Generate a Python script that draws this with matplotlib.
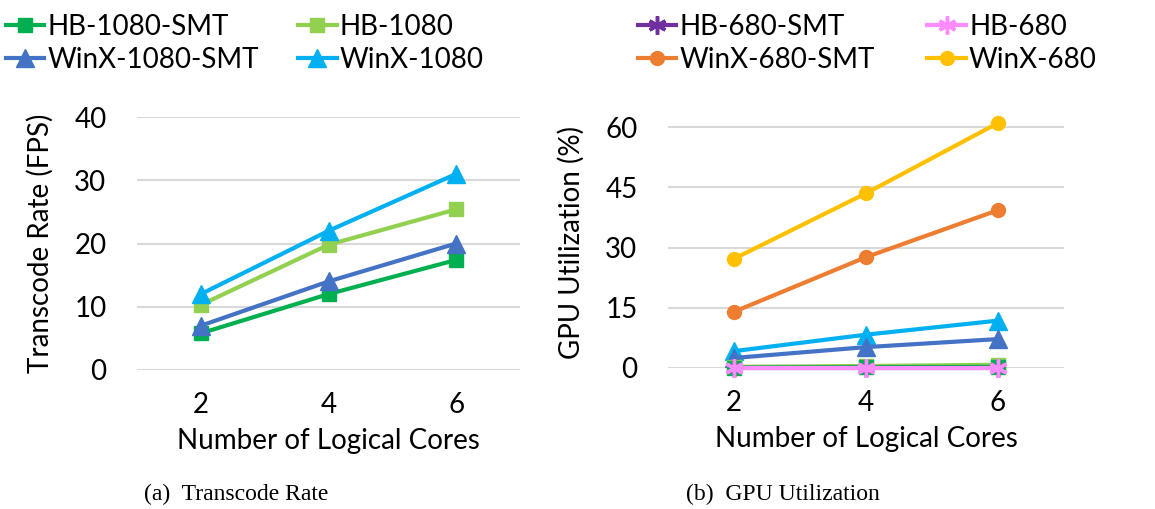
import numpy as np
import matplotlib
matplotlib.use("Agg")
import matplotlib.pyplot as plt
from matplotlib.lines import Line2D

plt.rcParams['font.family'] = ['Lato', 'DejaVu Sans']

cores = [2, 4, 6]

# transcode rate (FPS)
fps_hb1080_smt = [5.8, 12.0, 17.4]
fps_hb1080 = [10.3, 19.8, 25.4]
fps_winx1080_smt = [7.0, 14.0, 20.0]
fps_winx1080 = [12.0, 22.0, 31.0]

# GPU utilization (%)
gpu_hb1080_smt = [0.1, 0.2, 0.3]
gpu_hb1080 = [0.3, 0.5, 0.8]
gpu_hb680_smt = [0.0, 0.0, 0.0]
gpu_hb680 = [0.0, 0.0, 0.0]
gpu_winx1080_smt = [2.5, 5.2, 7.2]
gpu_winx1080 = [4.2, 8.3, 11.8]
gpu_winx680_smt = [14.0, 27.6, 39.3]
gpu_winx680 = [27.2, 43.5, 61.0]

sty = {
    'HB-1080-SMT':   dict(color='#00B050', marker='s', ms=10),
    'HB-1080':       dict(color='#92D050', marker='s', ms=10),
    'HB-680-SMT':    dict(color='#7030A0', marker=(6, 2, 0), ms=13, mew=2.5),
    'HB-680':        dict(color='#FF8CFF', marker=(6, 2, 0), ms=13, mew=2.5),
    'WinX-1080-SMT': dict(color='#4472C4', marker='^', ms=13),
    'WinX-1080':     dict(color='#00B0F0', marker='^', ms=13),
    'WinX-680-SMT':  dict(color='#ED7D31', marker='o', ms=10),
    'WinX-680':      dict(color='#FFC000', marker='o', ms=10),
}

fig = plt.figure(figsize=(11.55, 5.09), dpi=100)
W, H = 1155, 509
ax1 = fig.add_axes([137 / W, 1 - 370 / H, (520 - 137) / W, (370 - 117) / H])
ax2 = fig.add_axes([668 / W, 1 - 368 / H, (1064 - 668) / W, (368 - 117) / H])

fs = 20

def draw(ax, name, vals):
    s = sty[name]
    ax.plot(cores, vals, color=s['color'], lw=3, marker=s['marker'],
            ms=s['ms'], mew=s.get('mew', 1), mec=s['color'], mfc=s['color'],
            clip_on=False, zorder=3)

draw(ax1, 'HB-1080-SMT', fps_hb1080_smt)
draw(ax1, 'HB-1080', fps_hb1080)
draw(ax1, 'WinX-1080-SMT', fps_winx1080_smt)
draw(ax1, 'WinX-1080', fps_winx1080)

draw(ax2, 'WinX-680', gpu_winx680)
draw(ax2, 'WinX-680-SMT', gpu_winx680_smt)
draw(ax2, 'WinX-1080', gpu_winx1080)
draw(ax2, 'WinX-1080-SMT', gpu_winx1080_smt)
draw(ax2, 'HB-1080', gpu_hb1080)
draw(ax2, 'HB-1080-SMT', gpu_hb1080_smt)
draw(ax2, 'HB-680-SMT', gpu_hb680_smt)
draw(ax2, 'HB-680', gpu_hb680)

for ax, yt, ylim in [(ax1, [0, 10, 20, 30, 40], 40), (ax2, [0, 15, 30, 45, 60], 62.5)]:
    ax.set_xlim(1, 7)
    ax.set_ylim(0, ylim)
    ax.set_xticks(cores)
    ax.set_yticks(yt)
    ax.tick_params(length=0, labelsize=fs)
    ax.tick_params(axis='y', pad=22)
    ax.tick_params(axis='x', pad=16)
    for sp in ax.spines.values():
        sp.set_visible(False)
    ax.yaxis.grid(True, color='#D9D9D9', lw=1.5)
    ax.set_axisbelow(True)
    ax.set_xlabel('Number of Logical Cores', fontsize=fs, labelpad=7)

ax1.set_ylabel('Transcode Rate (FPS)', fontsize=fs, labelpad=15)
ax2.set_ylabel('GPU Utilization (%)', fontsize=fs, labelpad=15)

def handle(name):
    s = sty[name]
    return Line2D([], [], color=s['color'], lw=3, marker=s['marker'],
                  ms=s['ms'], mew=s.get('mew', 1), mec=s['color'], mfc=s['color'])

left = ['HB-1080-SMT', 'WinX-1080-SMT', 'HB-1080', 'WinX-1080']
right = ['HB-680-SMT', 'WinX-680-SMT', 'HB-680', 'WinX-680']
for names, x0, cs in [(left, 0 / W, 1.4), (right, 632 / W, 1.9)]:
    fig.legend([handle(n) for n in names], names, ncol=2, loc='upper left',
               bbox_to_anchor=(x0, 1 - 8 / H), frameon=False, fontsize=fs,
               handlelength=1.4, handletextpad=0.1, columnspacing=cs,
               labelspacing=0.25, borderaxespad=0.1, borderpad=0.1)

fig.text(236 / W, 1 - 494 / H, '(a)  Transcode Rate', ha='center', va='center',
         fontsize=17, family='Liberation Serif')
fig.text(783 / W, 1 - 494 / H, '(b)  GPU Utilization', ha='center', va='center',
         fontsize=17, family='Liberation Serif')

fig.savefig('out.png', dpi=100)
